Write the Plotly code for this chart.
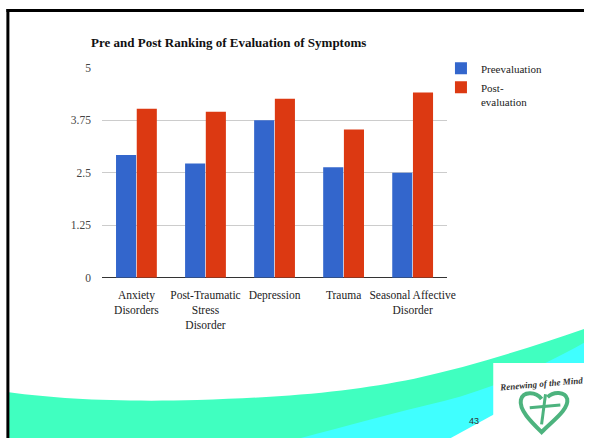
import plotly.graph_objects as go

# ---- data -------------------------------------------------------------
categories = [
    "Anxiety<br>Disorders",
    "Post-Traumatic<br>Stress<br>Disorder",
    "Depression",
    "Trauma",
    "Seasonal Affective<br>Disorder",
]
pre_values = [2.92, 2.72, 3.75, 2.63, 2.50]
post_values = [4.02, 3.95, 4.26, 3.53, 4.41]
series_names = ["Preevaluation", "Post-<br>evaluation"]
y_ticks = [0, 1.25, 2.5, 3.75, 5]
y_tick_labels = ["0", "1.25", "2.5", "3.75", "5"]

W, H = 592, 444
BLUE, RED = "#3366cc", "#dc3912"
SERIF = "Liberation Serif"


def px(x, y):
    """Figure pixel -> paper coordinates (margins are zero)."""
    return f"{x / W:.5f},{1 - y / H:.5f}"


def path(cmds):
    out = []
    for c in cmds:
        if isinstance(c, str):
            out.append(c)
        else:
            out.append(px(*c))
    return " ".join(out)


fig = go.Figure()
fig.add_trace(go.Bar(x=categories, y=pre_values, name=series_names[0],
                     marker=dict(color=BLUE, line=dict(width=0))))
fig.add_trace(go.Bar(x=categories, y=post_values, name=series_names[1],
                     marker=dict(color=RED, line=dict(width=0))))

shapes = []
# slide wave (mint band)
shapes.append(dict(type="path", xref="paper", yref="paper", layer="below",
                   line=dict(width=0), fillcolor="#40ffc0",
                   path=path(["M", (9, 397), "C", (60, 404), (120, 407), (200, 405),
                              "C", (300, 402), (360, 395), (420, 383),
                              "C", (480, 370), (540, 350), (592, 332),
                              "L", (592, 444), "L", (9, 444), "Z"])))
# cyan band underneath
shapes.append(dict(type="path", xref="paper", yref="paper", layer="below",
                   line=dict(width=0), fillcolor="#40ffff",
                   path=path(["M", (305, 444), "C", (350, 432), (400, 418), (450, 406),
                              "C", (500, 393), (550, 370), (592, 346),
                              "L", (592, 444), "Z"])))
# white corner under the band
shapes.append(dict(type="path", xref="paper", yref="paper", layer="below",
                   line=dict(width=0), fillcolor="white",
                   path=path(["M", (457, 444), "L", (500, 420), "L", (592, 380),
                              "L", (592, 444), "Z"])))
# logo card
shapes.append(dict(type="rect", xref="paper", yref="paper", layer="above",
                   x0=500 / W, x1=1.0, y0=0, y1=1 - 367 / H,
                   line=dict(width=0), fillcolor="white"))
# logo heart and cross
LOGO = "#4db37e"
shapes.append(dict(type="path", xref="paper", yref="paper", layer="above",
                   line=dict(color=LOGO, width=4),
                   path=path(["M", (549, 404), "C", (543, 396), (530, 396), (528, 405),
                              "C", (526, 415), (538, 427), (549, 438),
                              "C", (558, 428), (577, 415), (575, 404),
                              "C", (573, 396), (561, 396), (555, 402)])))
shapes.append(dict(type="line", xref="paper", yref="paper", layer="above",
                   x0=553 / W, x1=549 / W, y0=1 - 399 / H, y1=1 - 430 / H,
                   line=dict(color=LOGO, width=3)))
shapes.append(dict(type="line", xref="paper", yref="paper", layer="above",
                   x0=537 / W, x1=568 / W, y0=1 - 413 / H, y1=1 - 410 / H,
                   line=dict(color=LOGO, width=3)))
# slide frame
shapes.append(dict(type="line", xref="paper", yref="paper", layer="above",
                   x0=8 / W, x1=8 / W, y0=0, y1=1 - 3 / H,
                   line=dict(color="black", width=3)))
shapes.append(dict(type="line", xref="paper", yref="paper", layer="above",
                   x0=6.5 / W, x1=1.0, y0=1 - 4.5 / H, y1=1 - 4.5 / H,
                   line=dict(color="black", width=3)))

annotations = [
    dict(text="<b>Pre and Post Ranking of Evaluation of Symptoms</b>",
         x=90 / W, y=1 - 37 / H, xref="paper", yref="paper",
         xanchor="left", yanchor="middle", showarrow=False,
         font=dict(family=SERIF, size=13, color="#111")),
    dict(text="43", x=480.5 / W, y=1 - 427 / H, xref="paper", yref="paper",
         xanchor="center", yanchor="middle", showarrow=False,
         font=dict(family="Liberation Sans", size=9, color="#333")),
    dict(text="<b><i>Renewing of the Mind</i></b>", x=503 / W, y=1 - 388 / H,
         xref="paper", yref="paper", xanchor="left", yanchor="middle",
         showarrow=False, textangle=-5,
         font=dict(family=SERIF, size=9, color="#333")),
]

fig.update_layout(
    width=W, height=H,
    margin=dict(l=0, r=0, t=0, b=0, pad=0),
    paper_bgcolor="white", plot_bgcolor="white",
    barmode="group", bargap=0.4, bargroupgap=0.03,
    showlegend=True,
    legend=dict(x=447 / W, y=1 - 50 / H, xanchor="left", yanchor="top",
                font=dict(family=SERIF, size=11, color="#222"),
                valign="top", bgcolor="rgba(0,0,0,0)", tracegroupgap=0),
    xaxis=dict(domain=[103.3 / W, 453.3 / W], showgrid=False, ticks="",
               showline=False, zeroline=False,
               tickfont=dict(family=SERIF, size=11.5, color="#222"),
               ticklabelstandoff=9),
    yaxis=dict(domain=[1 - 279.3 / H, 1 - 63.3 / H], range=[0, 5],
               tickvals=y_ticks, ticktext=y_tick_labels, ticks="",
               showgrid=True, gridcolor="#cccccc", gridwidth=1,
               zeroline=True, zerolinecolor="#333333", zerolinewidth=1,
               showline=False,
               tickfont=dict(family=SERIF, size=11.5, color="#444"),
               ticklabelstandoff=10),
    shapes=shapes,
    annotations=annotations,
    font=dict(family=SERIF),
)

fig.write_html("out.html", post_script="document.body.style.margin='0';")
